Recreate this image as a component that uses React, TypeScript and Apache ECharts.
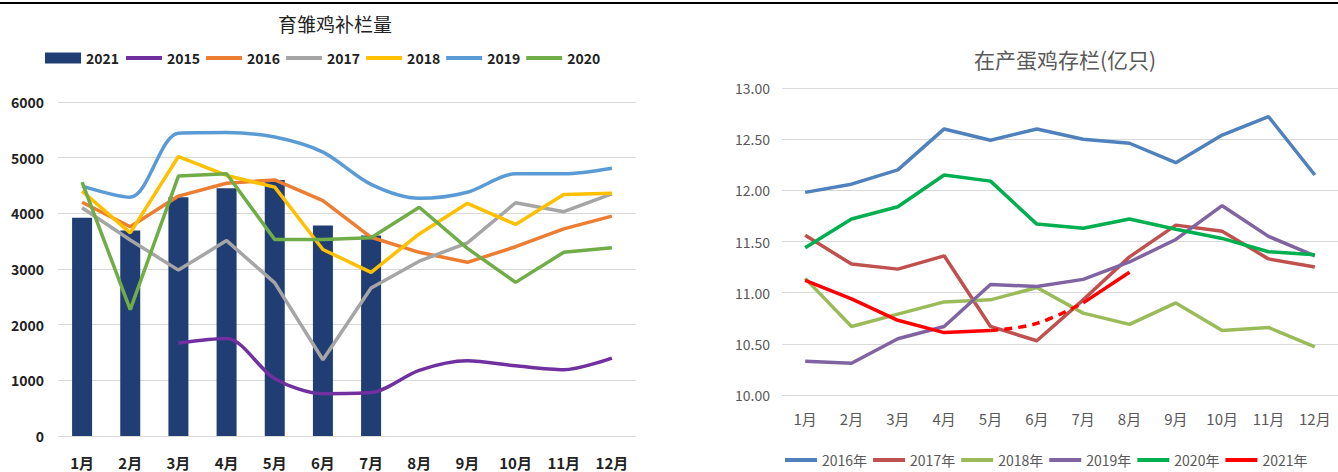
import React, { useEffect, useRef } from "react";
import * as echarts from "echarts";

const months = ["1月", "2月", "3月", "4月", "5月", "6月", "7月", "8月", "9月", "10月", "11月", "12月"];

// Left chart: 育雏鸡补栏量
const chicks2021 = [3920, 3690, 4290, 4450, 4600, 3780, 3600];
const chicks2015 = [null, null, 1670, 1750, 1030, 760, 780, 1180, 1350, 1260, 1190, 1400];
const chicks2016 = [4200, 3760, 4310, 4540, 4600, 4230, 3570, 3300, 3120, 3400, 3720, 3950];
const chicks2017 = [4100, 3520, 2980, 3510, 2750, 1370, 2660, 3140, 3470, 4190, 4030, 4350];
const chicks2018 = [4400, 3650, 5020, 4680, 4470, 3350, 2940, 3630, 4180, 3800, 4340, 4360];
const chicks2019 = [4490, 4290, 5440, 5450, 5370, 5100, 4520, 4270, 4380, 4710, 4710, 4810];
const chicks2020 = [4560, 2270, 4670, 4710, 3530, 3530, 3560, 4110, 3370, 2760, 3300, 3380];

// Right chart: 在产蛋鸡存栏(亿只)
const layers2016 = [11.98, 12.06, 12.2, 12.6, 12.49, 12.6, 12.5, 12.46, 12.27, 12.54, 12.72, 12.15];
const layers2017 = [11.56, 11.28, 11.23, 11.36, 10.67, 10.53, 10.93, 11.35, 11.66, 11.6, 11.33, 11.25];
const layers2018 = [11.14, 10.67, 10.79, 10.91, 10.93, 11.05, 10.8, 10.69, 10.9, 10.63, 10.66, 10.47];
const layers2019 = [10.33, 10.31, 10.55, 10.67, 11.08, 11.06, 11.13, 11.3, 11.52, 11.85, 11.55, 11.36];
const layers2020 = [11.44, 11.72, 11.84, 12.15, 12.09, 11.67, 11.63, 11.72, 11.62, 11.53, 11.4, 11.37];
const layers2021Solid = [11.12, 10.94, 10.73, 10.61, 10.63];
const layers2021Dashed = [null, null, null, null, 10.63, 10.7, 10.9];
const layers2021Tail = [null, null, null, null, null, null, 10.9, 11.2];

const leftFont = "'Liberation Sans Narrow', 'Noto Sans CJK SC', sans-serif";
const rightFont = "'Liberation Sans Narrow', 'Noto Sans CJK SC', sans-serif";

export default function App() {
  const ref = useRef<HTMLDivElement>(null);
  useEffect(() => {
    document.body.style.margin = "0";
    const chart = echarts.init(ref.current!, null, { renderer: "svg" });
    const lw = 3.5;
    const leftLine = (name: string, data: any[], color: string, smooth = false) => ({
      name,
      type: "line",
      xAxisIndex: 0,
      yAxisIndex: 0,
      data,
      symbol: "none",
      smooth: smooth ? 0.3 : false,
      lineStyle: { color, width: lw },
      itemStyle: { color },
      z: 3,
    });
    const rightLine = (name: string, data: any[], color: string, type: any = "solid") => ({
      name,
      type: "line",
      xAxisIndex: 1,
      yAxisIndex: 1,
      data,
      symbol: "none",
      connectNulls: false,
      lineStyle: { color, width: lw, type },
      itemStyle: { color },
    });
    const leftLegendText = { fontSize: 14, fontWeight: "bold", color: "#222", fontFamily: leftFont };
    chart.setOption({
      animation: false,
      backgroundColor: "#ffffff",
      graphic: [
        { type: "rect", shape: { x: 0, y: 2, width: 1338, height: 2 }, style: { fill: "#000" } },
      ],
      title: [
        {
          text: "育雏鸡补栏量",
          left: 330,
          top: 9,
          textAlign: "center",
          textStyle: { fontSize: 19, fontWeight: "normal", color: "#222", fontFamily: leftFont },
        },
        {
          text: "在产蛋鸡存栏(亿只)",
          left: 1060,
          top: 43,
          textAlign: "center",
          textStyle: { fontSize: 21, fontWeight: "normal", color: "#595959", fontFamily: rightFont },
        },
      ],
      legend: [
        {
          left: 45,
          top: 51,
          padding: 0,
          itemWidth: 36,
          itemHeight: 11,
          icon: "rect",
          textStyle: leftLegendText,
          data: ["2021"],
        },
        {
          left: 126,
          top: 51,
          padding: 0,
          itemWidth: 36,
          itemHeight: 4,
          itemGap: 6,
          icon: "rect",
          textStyle: leftLegendText,
          data: ["2015", "2016", "2017", "2018", "2019", "2020"],
        },
        {
          left: 785,
          top: 453,
          padding: 0,
          width: 560,
          itemWidth: 32,
          itemHeight: 4,
          itemGap: 6,
          icon: "rect",
          textStyle: { fontSize: 14, color: "#595959", fontFamily: rightFont },
          data: ["2016年", "2017年", "2018年", "2019年", "2020年", "2021年"],
        },
      ],
      grid: [
        { left: 58, top: 102, width: 578, height: 334 },
        { left: 782, top: 88, width: 565, height: 307 },
      ],
      xAxis: [
        {
          gridIndex: 0,
          type: "category",
          data: months,
          axisLine: { show: false },
          axisTick: { show: false },
          axisLabel: { fontSize: 15, color: "#222", fontWeight: "bold", margin: 19, fontFamily: leftFont },
        },
        {
          gridIndex: 1,
          type: "category",
          data: months,
          axisLine: { show: false },
          axisTick: { show: false },
          axisLabel: { fontSize: 15, color: "#595959", margin: 16, fontFamily: rightFont },
        },
      ],
      yAxis: [
        {
          gridIndex: 0,
          type: "value",
          min: 0,
          max: 6000,
          interval: 1000,
          axisLine: { show: false },
          axisTick: { show: false },
          splitLine: { lineStyle: { color: "#d9d9d9", width: 1 } },
          axisLabel: {
            fontSize: 14,
            color: "#222",
            fontWeight: "bold",
            margin: 14,
            fontFamily: leftFont,
            formatter: (v: number) => String(v),
          },
        },
        {
          gridIndex: 1,
          type: "value",
          min: 10,
          max: 13,
          interval: 0.5,
          axisLine: { show: false },
          axisTick: { show: false },
          splitLine: { lineStyle: { color: "#d9d9d9", width: 1 } },
          axisLabel: {
            fontSize: 14,
            color: "#595959",
            margin: 12,
            fontFamily: rightFont,
            formatter: (v: number) => v.toFixed(2),
          },
        },
      ],
      series: [
        {
          name: "2021",
          type: "bar",
          xAxisIndex: 0,
          yAxisIndex: 0,
          data: chicks2021,
          barWidth: 20,
          itemStyle: { color: "#203e74" },
          z: 2,
        },
        leftLine("2015", chicks2015, "#7030a0", true),
        leftLine("2016", chicks2016, "#ed7d31"),
        leftLine("2017", chicks2017, "#a5a5a5"),
        leftLine("2018", chicks2018, "#ffc000"),
        leftLine("2019", chicks2019, "#5b9bd5", true),
        leftLine("2020", chicks2020, "#70ad47"),
        rightLine("2016年", layers2016, "#4f81bd"),
        rightLine("2017年", layers2017, "#c0504d"),
        rightLine("2018年", layers2018, "#9bbb59"),
        rightLine("2019年", layers2019, "#8064a2"),
        rightLine("2020年", layers2020, "#00b050"),
        rightLine("2021年", layers2021Solid, "#ff0000"),
        { ...rightLine("2021年", layers2021Dashed, "#ff0000", [8, 6]), smooth: 0.4 },
        rightLine("2021年", layers2021Tail, "#ff0000"),
      ],
    });
    return () => chart.dispose();
  }, []);
  return <div ref={ref} style={{ width: 1338, height: 472 }} />;
}
